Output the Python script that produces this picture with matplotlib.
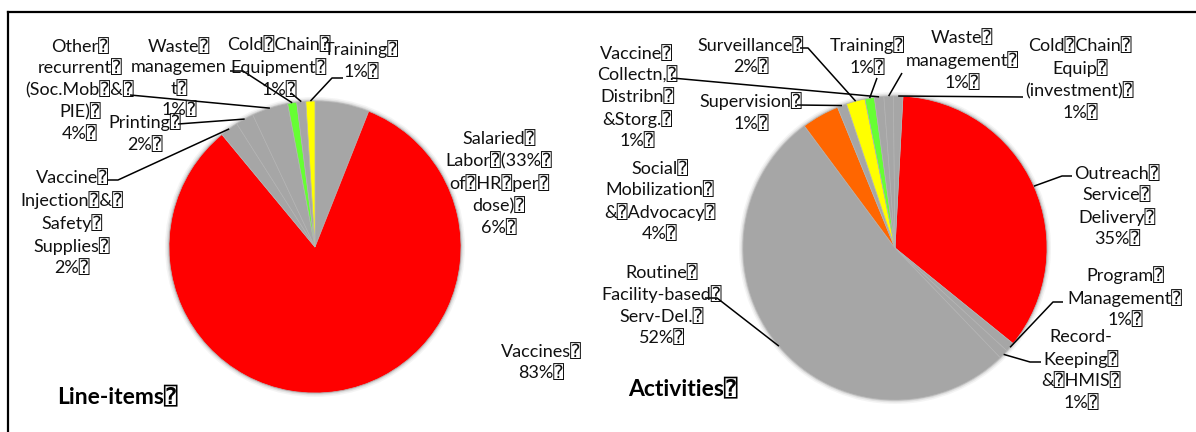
import numpy as np
import matplotlib
matplotlib.use("Agg")
import matplotlib.pyplot as plt
from matplotlib.patches import Circle

B = "\u2370"  # box glyph that trails every label line

# ---- data: line-items pie (clockwise from 12 o'clock) ----
item_names = [
    f"Salaried{B}\nLabor{B}(33%{B}\nof{B}HR{B}per{B}\ndose){B}",
    f"Vaccines{B}",
    f"Vaccine{B}\nInjection{B}&{B}\nSafety{B}\nSupplies{B}",
    f"Printing{B}",
    f"Other{B}\nrecurrent{B}\n(Soc.Mob{B}&{B}\nPIE){B}",
    f"Waste{B}\nmanagemen\nt{B}",
    f"Cold{B}Chain{B}\nEquipment{B}",
    f"Training{B}",
]
item_values = [6, 83, 2, 2, 4, 1, 1, 1]
item_colors = ["#a6a6a6", "#ff0000", "#a6a6a6", "#a6a6a6", "#a6a6a6",
               "#66ff33", "#a6a6a6", "#ffff00"]

# ---- data: activities pie (clockwise from 12 o'clock) ----
act_names = [
    f"Outreach{B}\nService{B}\nDelivery{B}",
    f"Program{B}\nManagement{B}",
    f"Record-\nKeeping{B}\n&{B}HMIS{B}",
    f"Routine{B}\nFacility-based{B}\nServ-Del.{B}",
    f"Social{B}\nMobilization{B}\n&{B}Advocacy{B}",
    f"Supervision{B}",
    f"Surveillance{B}",
    f"Training{B}",
    f"Vaccine{B}\nCollectn,{B}\nDistribn{B}\n&Storg.{B}",
    f"Waste{B}\nmanagement{B}",
    f"Cold{B}Chain{B}\nEquip{B}\n(investment){B}",
]
act_values = [35, 1, 1, 52, 4, 1, 2, 1, 1, 1, 1]
act_colors = ["#ff0000", "#a6a6a6", "#a6a6a6", "#a6a6a6", "#ff6600",
              "#a6a6a6", "#ffff00", "#66ff33", "#a6a6a6", "#a6a6a6", "#a6a6a6"]

W, H = 1196, 432
FONT = ["Lato", "DejaVu Sans", "DejaVu Sans Mono"]

fig = plt.figure(figsize=(W / 100, H / 100), dpi=100)
ax = fig.add_axes([0, 0, 1, 1])


def Y(y):
    """convert a top-down pixel row to the axes' upward y"""
    return H - y


# layout: label centres and leader-line elbows (pixel positions, y from top)
item_layout = {
    0: ((499, 183), None),
    1: ((541, 362), None),
    2: ((72, 223), [(108, 180), (118, 180)]),
    3: ((145, 133), [(178, 124)]),
    4: ((80, 90), [(130, 95)]),
    5: ((179, 78), [(230, 71), (243, 71)]),
    6: ((279, 67), [(291, 93)]),
    7: ((361, 60), [(343, 78), (332, 78)]),
}
act_layout = {
    0: ((1117, 206), [(1072, 176), (1062, 176)]),
    1: ((1125, 297), [(1063, 302), (1053, 302)]),
    2: ((1081, 370), [(1041, 362), (1030, 362)]),
    3: ((662, 305), [(705, 298), (717, 298)]),
    4: ((660, 201), None),
    5: ((751, 112), [(797, 105)]),
    6: ((751, 56), [(800, 48), (808, 48)]),
    7: ((867, 56), [(877, 78)]),
    8: ((637, 97), [(672, 78)]),
    9: ((962, 60), [(902, 73)]),
    10: ((1080, 79), [(1023, 97)]),
}


def draw_pie(values, colors, names, layout, center, radius, offset, title, title_xy):
    cx, cy = center
    # soft halo behind the pie
    for dr, a in [(4, 0.10), (2.5, 0.18), (1.2, 0.30)]:
        ax.add_patch(Circle((cx, Y(cy)), radius + dr, color="#9a9a9a",
                            alpha=a, lw=0, zorder=1))
    ax.pie(values, colors=colors, startangle=90 - offset, counterclock=False,
           center=(cx, Y(cy)), radius=radius, frame=True,
           wedgeprops=dict(edgecolor="#b4b4b4", linewidth=0.5, zorder=2))
    total = float(sum(values))
    cum = np.cumsum([0] + list(values))
    for i, (name, v) in enumerate(zip(names, values)):
        (lx, ly), elbows = layout[i]
        ax.text(lx, Y(ly), f"{name}\n{v}%{B}", ha="center", va="center",
                multialignment="center", fontsize=13, linespacing=1.33,
                family=FONT, color="#111111", zorder=5)
        if elbows:
            mid = np.deg2rad(offset + 360 * (cum[i] + v / 2) / total)
            ex = cx + radius * np.sin(mid)
            ey = cy - radius * np.cos(mid)
            pts = elbows + [(ex, ey)]
            ax.plot([p[0] for p in pts], [Y(p[1]) for p in pts],
                    color="black", lw=1.1, zorder=4, solid_capstyle="butt")
    ax.text(title_xy[0], Y(title_xy[1]), f"{title}{B}", ha="center", va="center",
            fontsize=16.5, fontweight="bold", family=FONT, color="black", zorder=5)


draw_pie(item_values, item_colors, item_names, item_layout,
         (315, 247), 146, 0, "Line-items", (117, 396))
draw_pie(act_values, act_colors, act_names, act_layout,
         (895, 248), 152, 3, "Activities", (683, 388))

# outer frame (left and top edges visible)
ax.plot([8, 8], [Y(H + 5), Y(12)], color="black", lw=1.6, zorder=6)
ax.plot([8, W + 5], [Y(12), Y(12)], color="black", lw=1.6, zorder=6)

ax.set_xlim(0, W)
ax.set_ylim(0, H)
ax.set_aspect("auto")
ax.axis("off")

fig.savefig("out.png", dpi=100, facecolor="white")
